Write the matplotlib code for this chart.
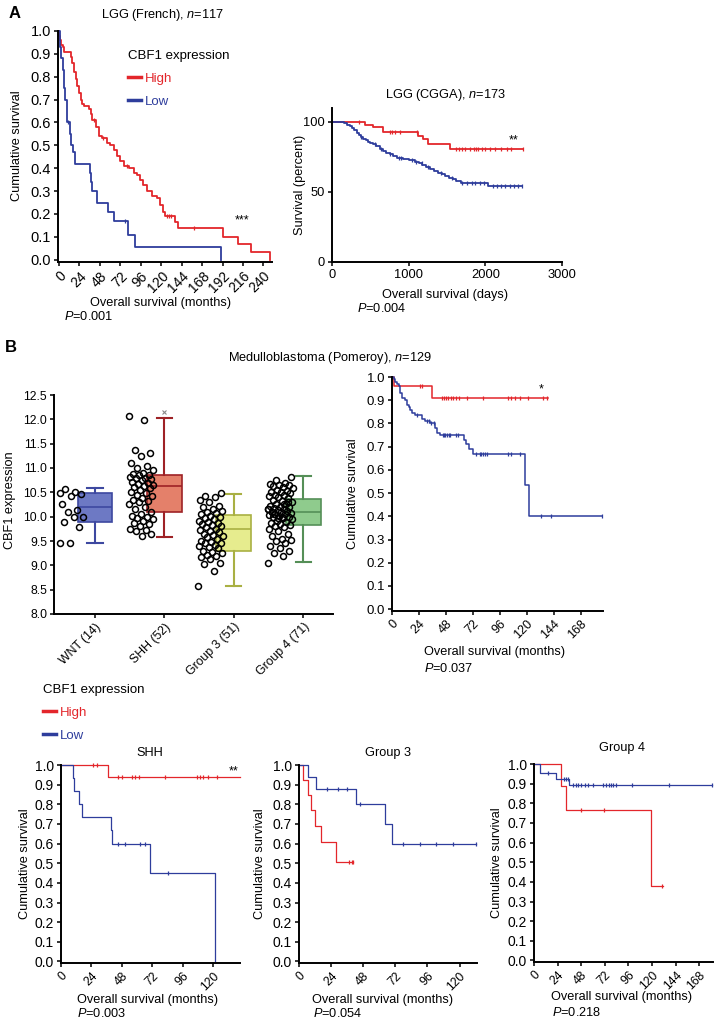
import numpy as np
import matplotlib
matplotlib.use('Agg')
import matplotlib.pyplot as plt
from matplotlib.lines import Line2D

plt.rcParams['font.family'] = ['Liberation Sans', 'DejaVu Sans']
plt.rcParams['mathtext.fontset'] = 'custom'
plt.rcParams['mathtext.rm'] = 'Liberation Sans'
plt.rcParams['mathtext.it'] = 'Liberation Sans:italic'

RED = '#e3262b'
BLUE = '#2e3d9c'
W, H = 714, 1021
LFS = 9.2   # axis labels / titles

# %% data -- panel A, LGG (French), months
fr_high_t = [0.5, 1.5, 3, 4.5, 6.2, 14, 15.9, 17.8, 19.8, 21.7, 23.6, 25.6, 27.5, 29.5, 35.3,
             37.2, 39.1, 43, 46.9, 50.8, 56.6, 60.5, 64.3, 68.2, 72.1, 76, 81.8, 87.6, 91.5,
             95.3, 99.2, 103, 109, 114.7, 118.6, 122.5, 124.4, 136, 140, 193, 209.7, 225, 248]
fr_high_s = [0.98, 0.96, 0.94, 0.93, 0.91, 0.887, 0.86, 0.82, 0.79, 0.76, 0.73, 0.70, 0.68, 0.67,
             0.66, 0.635, 0.61, 0.58, 0.54, 0.53, 0.51, 0.50, 0.48, 0.455, 0.43, 0.41, 0.40, 0.38,
             0.37, 0.35, 0.325, 0.30, 0.28, 0.27, 0.24, 0.21, 0.19, 0.165, 0.137, 0.10, 0.067,
             0.033, 0.0]
fr_high_cens = [41, 52, 80, 127, 129, 131, 159]
fr_low_t = [0.8, 3.1, 4.7, 6.2, 7.4, 10, 12.8, 14.7, 16.7, 18.6, 36.4, 37.2, 38.4, 44.2, 58, 65,
            81, 89.5, 190]
fr_low_s = [0.93, 0.88, 0.83, 0.75, 0.70, 0.60, 0.55, 0.50, 0.47, 0.42, 0.38, 0.34, 0.30, 0.25,
            0.21, 0.17, 0.11, 0.055, 0.0]
fr_low_cens = [11, 78]

# %% panel A, LGG (CGGA), days / percent
cg_high_t = [427, 536, 667, 1125, 1190, 1256, 1540]
cg_high_s = [98, 96.4, 93, 90, 87.6, 84, 81]
cg_high_cens = [353, 755, 780, 820, 885, 1103, 1620, 1660, 1700, 1740, 1800, 1850, 1880, 1910,
                1950, 2000, 2060, 2120, 2200, 2280, 2330, 2490]
cg_low_t = [160, 200, 230, 260, 290, 320, 350, 380, 410, 440, 470, 500, 540, 580, 620, 660, 700,
            750, 800, 850, 920, 1000, 1080, 1130, 1180, 1230, 1280, 1330, 1380, 1430, 1480, 1530,
            1580, 1620, 1680, 2030]
cg_low_s = [99, 98, 97, 95.5, 94, 92, 90.5, 89, 88, 87, 86, 85, 84, 82.5, 81, 79.5, 78, 77, 75.5,
            74.5, 73.5, 72.5, 71.5, 70.5, 69, 68, 66.5, 65, 63.5, 62.5, 61.5, 60, 59, 58, 56.5, 54]
cg_low_cens = [380, 560, 640, 760, 870, 905, 1040, 1100, 1170, 1250, 1420, 1560, 1700, 1760,
               1820, 1870, 1930, 1980, 2100, 2150, 2200, 2260, 2320, 2380, 2430, 2480]

# %% panel B, boxplot (CBF1 expression by subgroup)
groups = ['WNT (14)', 'SHH (52)', 'Group 3 (51)', 'Group 4 (71)']
box_med = [10.2, 10.63, 9.75, 10.1]
box_q1 = [9.9, 10.09, 9.3, 9.83]
box_q3 = [10.48, 10.86, 10.03, 10.37]
box_lo = [9.45, 9.58, 8.58, 9.06]
box_hi = [10.58, 12.02, 10.47, 10.83]
box_out = [[], [12.16], [], []]
box_fill = ['#6d79c4', '#e4806a', '#e6ec8e', '#8fcb8d']
box_edge = ['#3d48a0', '#9e2226', '#a9b043', '#558f57']

wnt_vals = [10.48, 10.50, 10.57, 10.47, 10.43, 10.27, 10.13, 10.10, 10.0, 10.0, 9.90, 9.78,
            9.45, 9.45]
shh_vals = [12.07, 11.98, 11.36, 11.30, 11.25, 11.10, 11.05, 11.0, 10.95, 10.9, 10.88, 10.85,
            10.85, 10.82, 10.8, 10.8, 10.78, 10.75, 10.72, 10.7, 10.68, 10.65, 10.62, 10.6, 10.58,
            10.55, 10.5, 10.48, 10.45, 10.42, 10.38, 10.35, 10.33, 10.3, 10.25, 10.2, 10.15, 10.1,
            10.05, 10.02, 10.0, 9.98, 9.95, 9.92, 9.88, 9.85, 9.8, 9.75, 9.72, 9.7, 9.65, 9.6]
g3_vals = [8.58, 8.88, 9.02, 9.05, 9.12, 9.18, 9.2, 9.22, 9.25, 9.28, 9.3, 9.35, 9.38, 9.4,
           9.42, 9.45, 9.45, 9.48, 9.5, 9.55, 9.58, 9.6, 9.62, 9.65, 9.68, 9.7, 9.72, 9.75, 9.78,
           9.8, 9.82, 9.85, 9.88, 9.9, 9.92, 9.95, 9.98, 10.0, 10.02, 10.05, 10.08, 10.1, 10.12,
           10.15, 10.2, 10.22, 10.3, 10.35, 10.4, 10.42, 10.48]
g4_vals = [9.05, 9.2, 9.25, 9.3, 9.35, 9.4, 9.45, 9.5, 9.52, 9.55, 9.6, 9.65, 9.7, 9.75, 9.78,
           9.8, 9.82, 9.85, 9.88, 9.9, 9.92, 9.95, 9.97, 10.0, 10.0, 10.02, 10.03, 10.05, 10.06,
           10.08, 10.1, 10.1, 10.12, 10.13, 10.15, 10.16, 10.18, 10.2, 10.2, 10.22, 10.25, 10.27,
           10.3, 10.32, 10.35, 10.38, 10.4, 10.42, 10.45, 10.45, 10.48, 10.5, 10.5, 10.52, 10.55,
           10.58, 10.6, 10.62, 10.65, 10.65, 10.68, 10.7, 10.75, 10.82, 10.0, 10.1, 10.3, 9.98,
           10.15, 10.25, 10.05]

# %% panel B, Medulloblastoma (Pomeroy), months
pm_high_t = [1.4, 35.3]
pm_high_s = [0.96, 0.91]
pm_high_cens = [25, 27, 44.2, 46.2, 48, 50, 52.5, 54.5, 56.9, 59.8, 66.4, 81.2, 103.4, 106.4,
                109.3, 113.8, 121.2, 134.5, 138]
pm_low_t = [1.4, 2.9, 4.4, 5.9, 7.4, 8.9, 11.9, 13.3, 14.8, 16.3, 17.8, 20.7, 26.7, 29.6, 34,
            38.5, 40, 43, 64, 66, 69, 72, 118.5, 122.3]
pm_low_s = [0.99, 0.98, 0.97, 0.96, 0.93, 0.91, 0.90, 0.88, 0.87, 0.86, 0.845, 0.835, 0.82, 0.81,
            0.80, 0.78, 0.76, 0.75, 0.73, 0.71, 0.69, 0.67, 0.535, 0.40]
pm_low_cens = [22.7, 31, 33, 35, 37, 45, 46.2, 47.5, 49, 50.5, 52, 57, 58.5, 75, 78, 79.5, 81,
               82.5, 85, 103, 106, 114, 133, 142, 187]

# %% subgroups
shh_high_t = [37.3]
shh_high_s = [0.94]
shh_high_cens = [25.5, 28, 45, 48.3, 55.6, 58.3, 61.7, 82, 106.8, 109.4, 112, 116, 122.6]
shh_low_t = [9.2, 10.2, 14.2, 16.8, 39.1, 40.4, 70, 121]
shh_low_s = [0.933, 0.867, 0.80, 0.733, 0.667, 0.60, 0.45, 0.0]
shh_low_cens = [45, 50.4, 62, 66, 84.5]

g3_high_t = [3.2, 7, 9, 12, 16.4, 27.3]
g3_high_s = [0.925, 0.846, 0.77, 0.69, 0.61, 0.505]
g3_high_cens = [37.5, 39.3, 40.5]
g3_low_t = [7, 12.7, 42.5, 64, 69.8]
g3_low_s = [0.94, 0.88, 0.80, 0.70, 0.60]
g3_low_cens = [20.6, 29.3, 35.5, 45.5, 77.8, 90.2, 102.6, 115, 132.4]

g4_high_t = [27.7, 32.8, 119]
g4_high_s = [0.89, 0.765, 0.38]
g4_high_cens = [48, 71.6, 130]
g4_low_t = [5.7, 22.6, 35.5]
g4_low_s = [0.955, 0.925, 0.895]
g4_low_cens = [14.2, 31, 32.8, 34.5, 39.5, 42.2, 44.6, 48, 51.4, 54.7, 59.8, 70, 73.3, 76, 78.4,
               80.7, 83.4, 100, 137.5, 181]


# %% helpers
fig = plt.figure(figsize=(W / 100, H / 100), dpi=100)


def axes_px(l, t, r, b, tfs=9.5, xfs=None):
    ax = fig.add_axes([l / W, 1 - b / H, (r - l) / W, (b - t) / H])
    for s in ['top', 'right']:
        ax.spines[s].set_visible(False)
    for s in ['left', 'bottom']:
        ax.spines[s].set_linewidth(1.4)
    ax.tick_params(direction='out', length=3, width=1.1, labelsize=tfs, pad=2)
    if xfs is not None:
        ax.tick_params(axis='x', labelsize=xfs)
    return ax


def fx(x):
    return x / W


def fy(y):
    return 1 - y / H


def km(ax, t, s, end, cens, color, lw=1.0, start=1.0):
    t = np.asarray(t, float)
    s = np.asarray(s, float)
    ax.step(np.r_[0, t, end], np.r_[start, s, s[-1]], where='post', color=color, lw=lw,
            clip_on=False)
    idx = np.searchsorted(t, cens, side='right') - 1
    cy = np.where(idx >= 0, s[np.clip(idx, 0, None)], start)
    ax.plot(cens, cy, ls='none', marker='|', color=color, ms=3.5, mew=0.9, clip_on=False)


def labels(ax, xl, xpos, yl, ypos, fs=LFS):
    ax.set_xlabel(xl, fontsize=fs, va='center')
    ax.xaxis.set_label_coords(fx(xpos[0]), fy(xpos[1]), transform=fig.transFigure)
    ax.set_ylabel(yl, fontsize=fs, va='center')
    ax.yaxis.set_label_coords(fx(ypos[0]), fy(ypos[1]), transform=fig.transFigure)


def rot_ticks(ax):
    plt.setp(ax.get_xticklabels(), rotation=45, ha='right', rotation_mode='anchor')


def ptext(x, y, s):
    fig.text(fx(x), fy(y), '$P$=' + s, fontsize=LFS, va='center', ha='left')


def surv_ticks(ax):
    v = np.arange(0, 1.01, 0.1)
    ax.set_yticks(v)
    ax.set_yticklabels(['%.1f' % a for a in v])


# %% A left
ax = axes_px(58, 31, 272, 262, tfs=10.5, xfs=10)
km(ax, fr_high_t, fr_high_s, 248, fr_high_cens, RED, lw=1.3)
km(ax, fr_low_t, fr_low_s, 190, fr_low_cens, BLUE, lw=1.3)
ax.set_xlim(-1, 250)
ax.set_ylim(-0.01, 1.0)
ax.set_xticks(np.arange(0, 241, 24))
surv_ticks(ax)
rot_ticks(ax)
ax.text(215, 0.17, '***', ha='center', va='center', fontsize=9)
labels(ax, 'Overall survival (months)', (161, 303), 'Cumulative survival', (17, 146))
ptext(64, 316, '0.001')
fig.text(fx(162), fy(15), 'LGG (French), $n$=117', ha='center', va='center', fontsize=LFS)
fig.text(fx(9), fy(14), 'A', ha='left', va='center', fontsize=12, fontweight='bold')
leg_h = [Line2D([], [], color=RED, lw=2.5), Line2D([], [], color=BLUE, lw=2.5)]
ax.legend(leg_h, ['High', 'Low'], title='CBF1 expression', loc='upper left',
          bbox_to_anchor=(fx(128), fy(50)), bbox_transform=fig.transFigure, frameon=False,
          handlelength=1.0, handletextpad=0.3, labelspacing=0.8, borderpad=0,
          borderaxespad=0, alignment='left', fontsize=9.5, title_fontsize=9.5,
          labelcolor='linecolor')

# %% A right
ax = axes_px(332, 108, 562, 262, tfs=9.3)
km(ax, cg_high_t, cg_high_s, 2490, cg_high_cens, RED, lw=1.3, start=100)
km(ax, cg_low_t, cg_low_s, 2480, cg_low_cens, BLUE, lw=1.3, start=100)
ax.set_xlim(0, 3000)
ax.set_ylim(0, 110)
ax.set_xticks([0, 1000, 2000, 3000])
ax.set_yticks([0, 50, 100])
ax.text(2368, 86.5, '**', ha='center', va='center', fontsize=9)
labels(ax, 'Overall survival (days)', (445, 295), 'Survival (percent)', (300, 185))
ptext(357, 308, '0.004')
fig.text(fx(445), fy(95), 'LGG (CGGA), $n$=173', ha='center', va='center', fontsize=LFS)

# %% B boxplot
ax = axes_px(54, 395, 333, 614, tfs=8.8)
stats = []
for i in range(4):
    stats.append(dict(med=box_med[i], q1=box_q1[i], q3=box_q3[i], whislo=box_lo[i],
                      whishi=box_hi[i], fliers=box_out[i]))
bp = ax.bxp(stats, positions=[1, 2, 3, 4], widths=0.5, capwidths=0.22, patch_artist=True,
            flierprops=dict(marker='x', markersize=3, markeredgecolor='#888888', mew=0.8))
for i in range(4):
    bp['boxes'][i].set_facecolor(box_fill[i])
    bp['boxes'][i].set_edgecolor(box_edge[i])
    bp['boxes'][i].set_linewidth(1.2)
    bp['medians'][i].set_color(box_edge[i])
    bp['medians'][i].set_linewidth(1.2)
    for ln in bp['whiskers'][2 * i:2 * i + 2] + bp['caps'][2 * i:2 * i + 2]:
        ln.set_color(box_edge[i])
        ln.set_linewidth(1.5)
for i, vals in enumerate([wnt_vals, shh_vals, g3_vals, g4_vals]):
    vals = np.asarray(vals)
    k = np.arange(len(vals))
    jit = ((k * 0.618034) % 1.0 - 0.5) * 0.36
    ax.plot(i + 1 - 0.33 + jit, vals, ls='none', marker='o', ms=4.3, mfc='none', mec='black',
            mew=1.1, zorder=4)
ax.set_xlim(0.41, 4.43)
ax.set_ylim(8.0, 12.5)
ax.set_yticks(np.arange(8.0, 12.51, 0.5))
ax.set_yticklabels(['%.1f' % v for v in np.arange(8.0, 12.51, 0.5)])
ax.set_xticks([1, 2, 3, 4])
ax.set_xticklabels(groups)
rot_ticks(ax)
ax.set_ylabel('CBF1 expression', fontsize=LFS, va='center')
ax.yaxis.set_label_coords(fx(10), fy(500), transform=fig.transFigure)
fig.text(fx(5), fy(347), 'B', ha='left', va='center', fontsize=12, fontweight='bold')
fig.text(fx(330), fy(358), 'Medulloblastoma (Pomeroy), $n$=129', ha='center', va='center',
         fontsize=LFS)

# %% B right KM
ax = axes_px(392, 377, 603, 611, tfs=9.5, xfs=9)
km(ax, pm_high_t, pm_high_s, 139, pm_high_cens, RED, lw=1.1)
km(ax, pm_low_t, pm_low_s, 187, pm_low_cens, BLUE, lw=1.1)
ax.set_xlim(0, 188)
ax.set_ylim(-0.008, 1.0)
ax.set_xticks(np.arange(0, 169, 24))
surv_ticks(ax)
rot_ticks(ax)
ax.text(133, 0.945, '*', ha='center', va='center', fontsize=9)
labels(ax, 'Overall survival (months)', (495, 652), 'Cumulative survival', (353, 494))
ptext(424, 668, '0.037')

# %% bottom legend
fig.legend(leg_h, ['High', 'Low'], title='CBF1 expression', loc='upper left',
           bbox_to_anchor=(fx(43), fy(684)), frameon=False, handlelength=1.0,
           handletextpad=0.3, labelspacing=0.8, borderpad=0, borderaxespad=0,
           alignment='left', fontsize=9.5, title_fontsize=9.5, labelcolor='linecolor')

# %% bottom panels
panels = [
    ('SHH', (61, 765, 240, 963), 141, np.arange(0, 121, 24),
     (shh_high_t, shh_high_s, 141, shh_high_cens), (shh_low_t, shh_low_s, 121, shh_low_cens),
     (150, 753), (148, 1000), (25, 864), (77, 1013), '0.003'),
    ('Group 3', (299, 765, 477, 963), 133, np.arange(0, 121, 24),
     (g3_high_t, g3_high_s, 40.5, g3_high_cens), (g3_low_t, g3_low_s, 132.4, g3_low_cens),
     (388, 753), (383, 1000), (260, 864), (313, 1013), '0.054'),
    ('Group 4', (534, 764, 713, 962), 182, np.arange(0, 169, 24),
     (g4_high_t, g4_high_s, 130.7, g4_high_cens), (g4_low_t, g4_low_s, 181, g4_low_cens),
     (622, 748), (622, 997), (497, 863), (552, 1012), '0.218'),
]
for name, box, xmax, xt, hi, lo, tpos, xlpos, ylpos, ppos, pval in panels:
    ax = axes_px(*box, tfs=10, xfs=8.8)
    km(ax, *hi, RED, lw=0.9)
    km(ax, *lo, BLUE, lw=0.9)
    ax.set_xlim(0, xmax)
    ax.set_ylim(-0.008, 1.0)
    ax.set_xticks(xt)
    surv_ticks(ax)
    rot_ticks(ax)
    labels(ax, 'Overall survival (months)', xlpos, 'Cumulative survival', ylpos)
    ptext(ppos[0], ppos[1], pval)
    fig.text(fx(tpos[0]), fy(tpos[1]), name, ha='center', va='center', fontsize=LFS)
    if name == 'SHH':
        ax.text(135.7, 0.968, '**', ha='center', va='center', fontsize=9)

fig.savefig('out.png', dpi=100)
